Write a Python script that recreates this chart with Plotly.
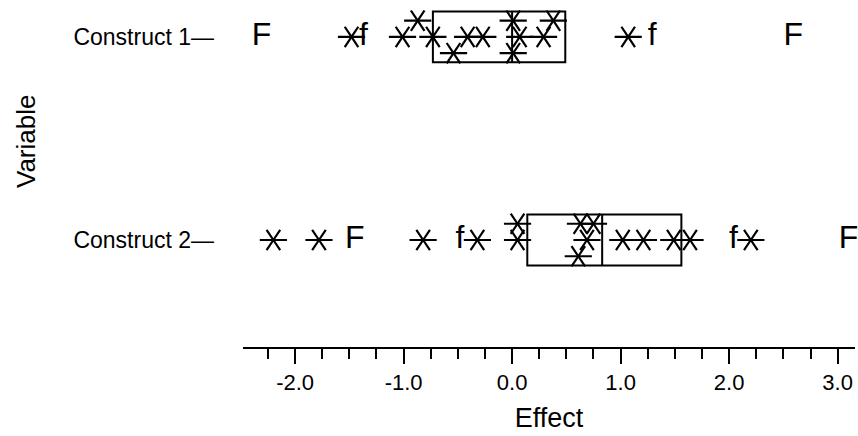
import plotly.graph_objects as go

# ---- data ----
variables = ["Construct 1", "Construct 2"]
var_pos = [1, 0]

c1_x = [-1.48, -1.01, -0.87, -0.73, -0.54, -0.41, -0.27, 0.01, 0.07, 0.01, 0.29, 0.38, 1.07]
c1_lvl = [0, 0, 1, 0, -1, 0, 0, 1, 0, -1, 0, 1, 0]
c2_x = [-2.20, -1.78, -0.82, -0.32, 0.05, 0.05, 0.63, 0.75, 0.69, 0.61, 1.02, 1.21, 1.49, 1.64, 2.20]
c2_lvl = [0, 0, 0, 0, 1, 0, 1, 1, 0, -1, 0, 0, 0, 0, 0]

q1 = [-0.73, 0.14]
median = [0.0, 0.83]
q3 = [0.49, 1.56]

outer_fence_lo = [-2.31, -1.45]
inner_fence_lo = [-1.37, -0.48]
inner_fence_hi = [1.29, 2.04]
outer_fence_hi = [2.59, 3.10]

tick_vals = [-2, -1, 0, 1, 2, 3]
tick_text = ["-2.0", "-1.0", "0.0", "1.0", "2.0", "3.0"]

STACK = 0.08
FONT = "Liberation Sans, Arial, sans-serif"

fig = go.Figure()

# boxes
for i, v in enumerate(var_pos):
    fig.add_trace(go.Box(
        y=[v], q1=[q1[i]], median=[median[i]], q3=[q3[i]],
        lowerfence=[q1[i]], upperfence=[q3[i]],
        orientation="h", width=0.25, whiskerwidth=0,
        fillcolor="rgba(0,0,0,0)", line=dict(color="black", width=2),
        boxpoints=False, showlegend=False, hoverinfo="skip"))

# points (asterisks)
xs = c1_x + c2_x
ys = [var_pos[0] + STACK * l for l in c1_lvl] + [var_pos[1] + STACK * l for l in c2_lvl]
for sym in ["y-left-open", "y-right-open"]:
    fig.add_trace(go.Scatter(
        x=xs, y=ys, mode="markers",
        marker=dict(symbol=sym, size=17, line=dict(color="black", width=2.2), color="black"),
        showlegend=False, hoverinfo="skip", cliponaxis=False))

# fences
fx, fy, ft = [], [], []
for i, v in enumerate(var_pos):
    fx += [outer_fence_lo[i], inner_fence_lo[i], inner_fence_hi[i], outer_fence_hi[i]]
    fy += [v] * 4
    ft += ["F", "f", "f", "F"]
fig.add_trace(go.Scatter(
    x=fx, y=fy, mode="text", text=ft, textposition="middle center",
    textfont=dict(family=FONT, size=32, color="black"),
    showlegend=False, hoverinfo="skip", cliponaxis=False))

fig.add_annotation(text="Variable", xref="paper", yref="paper",
                   x=(26 - 243) / 612, y=1 - 142 / 347, textangle=-90,
                   xanchor="center", yanchor="middle",
                   showarrow=False, font=dict(family=FONT, size=26, color="black"))

fig.update_layout(
    width=858, height=436,
    margin=dict(l=243, r=3, t=0, b=89),
    paper_bgcolor="white", plot_bgcolor="white",
    xaxis=dict(range=[-2.48, 3.16], tickvals=tick_vals, ticktext=tick_text,
               showgrid=False, zeroline=False, showline=True, linecolor="black", linewidth=2,
               ticks="outside", ticklen=15, tickwidth=2, tickcolor="black",
               minor=dict(dtick=0.25, tick0=0, ticks="outside", ticklen=10, tickwidth=2, tickcolor="black"),
               tickfont=dict(family=FONT, size=22, color="black"),
               title=dict(text="Effect", font=dict(family=FONT, size=27, color="black"), standoff=14)),
    yaxis=dict(range=[-0.527, 1.182], tickvals=var_pos, ticktext=[v + "—" for v in variables],
               showgrid=False, zeroline=False, showline=False, ticks="",
               ticklabelstandoff=28,
               tickfont=dict(family=FONT, size=23, color="black")),
)

fig.write_html("out.html", config={"displayModeBar": False},
               post_script="document.body.style.margin='0';document.body.style.overflow='hidden';")
